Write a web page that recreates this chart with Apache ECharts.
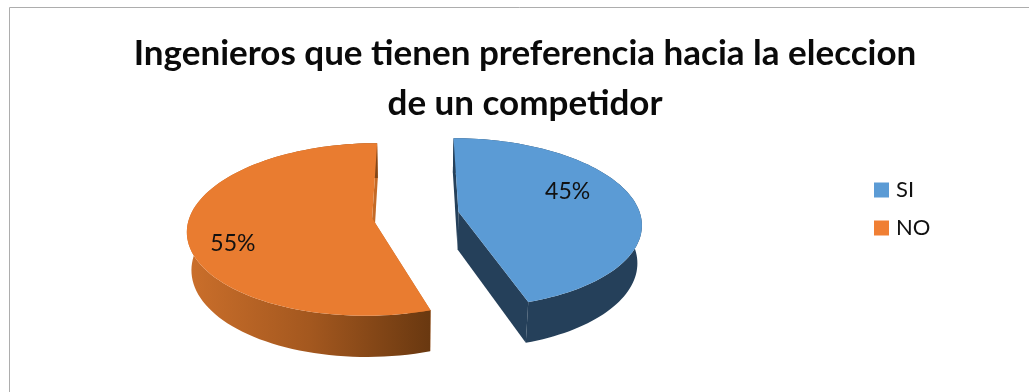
<!DOCTYPE html>
<html>
<head>
<meta charset="utf-8">
<style>html,body{margin:0;padding:0;background:#fff}#chart{width:1029px;height:392px}</style>
<script src="https://cdn.jsdelivr.net/npm/echarts@6/dist/echarts.min.js"></script>
</head>
<body>
<div id="chart"></div>
<script>
// Values
const categories = ['SI', 'NO'];
const shares = [45, 55];
const tickLabels = ['45%', '55%'];
const titleLines = ['Ingenieros que tienen preferencia hacia la eleccion', 'de un competidor'];

// Colours per slice
const topColors = ['#5B9BD5', '#E97C30'];
const legendColors = ['#5B9BD5', '#F07F34'];

// Where each percentage sits on its slice: direction (degrees clockwise from 12 o'clock) and radius
const labelDirections = [68, 248];
const labelRadii = [0.68, 0.78];

// Perspective camera used to project the exploded disc
const cam = { cx: 415.5, cy: 215, sx: 182, sz: 84, sh: 38.5, k: 0.13, m: 0.02 };
const explode = 0.24;

function project(x, z, h) {
  const w = 1 - cam.k * z + cam.m * h;
  return [cam.cx + cam.sx * x / w, cam.cy + (cam.sz * z + cam.sh * h) / w];
}

const total = shares.reduce((a, b) => a + b, 0);
function sliceAngles(idx) {
  const before = shares.slice(0, idx).reduce((a, b) => a + b, 0);
  return [before / total * 2 * Math.PI, (before + shares[idx]) / total * 2 * Math.PI];
}

function rimPoints(a0, a1, ox, oz, h) {
  const pts = [];
  const steps = 90;
  for (let i = 0; i <= steps; i++) {
    const a = a0 + (a1 - a0) * i / steps;
    pts.push(project(ox + Math.sin(a), oz - Math.cos(a), h));
  }
  return pts;
}

function wallFill(idx) {
  if (idx === 0) return '#25405A';
  return new echarts.graphic.LinearGradient(0, 0, 1, 0, [
    { offset: 0, color: '#CB6F2B' },
    { offset: 0.5, color: '#A4581F' },
    { offset: 1, color: '#693810' }
  ]);
}

function renderSlice(idx) {
  const [a0, a1] = sliceAngles(idx);
  const mid = (a0 + a1) / 2;
  const ox = explode * Math.sin(mid);
  const oz = -explode * Math.cos(mid);
  const apexTop = project(ox, oz, 0);
  const apexBottom = project(ox, oz, 1);
  const topRim = rimPoints(a0, a1, ox, oz, 0);
  const bottomRim = rimPoints(a0, a1, ox, oz, 1);
  const flat = idx === 0 ? '#25405A' : '#C46A26';
  const poly = (points, fill) => ({
    type: 'polygon',
    shape: { points },
    style: { fill, stroke: null }
  });
  const dir = labelDirections[idx] * Math.PI / 180;
  const lp = project(ox + labelRadii[idx] * Math.sin(dir), oz - labelRadii[idx] * Math.cos(dir), 0);

  // Slice-start wall, slice-end wall, outer wall, then the top face over them
  const startWall = [apexTop, topRim[0], bottomRim[0], apexBottom];
  const endWall = [apexTop, topRim[topRim.length - 1], bottomRim[bottomRim.length - 1], apexBottom];
  const outerWall = topRim.concat(bottomRim.slice().reverse());
  return {
    type: 'group',
    children: [
      poly(startWall, flat),
      poly(endWall, flat),
      poly(outerWall, wallFill(idx)),
      poly([apexTop].concat(topRim), topColors[idx]),
      {
        type: 'text',
        x: lp[0], y: lp[1],
        style: {
          text: tickLabels[idx],
          fill: '#111',
          font: '23px Lato, sans-serif',
          align: 'center',
          verticalAlign: 'middle'
        }
      }
    ]
  };
}

const chart = echarts.init(document.getElementById('chart'), null, { renderer: 'canvas' });
chart.setOption({
  animation: false,
  backgroundColor: '#fff',
  title: {
    text: titleLines.join('\n'),
    left: 520,
    top: 24,
    textAlign: 'center',
    textStyle: { fontFamily: 'Lato, sans-serif', fontWeight: 'bold', fontSize: 35, lineHeight: 50, color: '#0a0a0a' }
  },
  legend: {
    orient: 'vertical',
    left: 869,
    top: 174,
    icon: 'rect',
    itemWidth: 15,
    itemHeight: 15,
    itemGap: 16,
    textStyle: { fontFamily: 'Lato, sans-serif', fontSize: 22, color: '#111', padding: [0, 0, 0, 2] },
    data: categories
  },
  graphic: [{
    type: 'rect',
    silent: true,
    shape: { x: 9.5, y: 7.5, width: 1030, height: 400 },
    style: { fill: null, stroke: '#ADADAD', lineWidth: 1 }
  }],
  series: categories.map((name, idx) => ({
    type: 'custom',
    name,
    coordinateSystem: 'none',
    itemStyle: { color: legendColors[idx] },
    renderItem: () => renderSlice(idx),
    data: [shares[idx]]
  }))
});
</script>
</body>
</html>
